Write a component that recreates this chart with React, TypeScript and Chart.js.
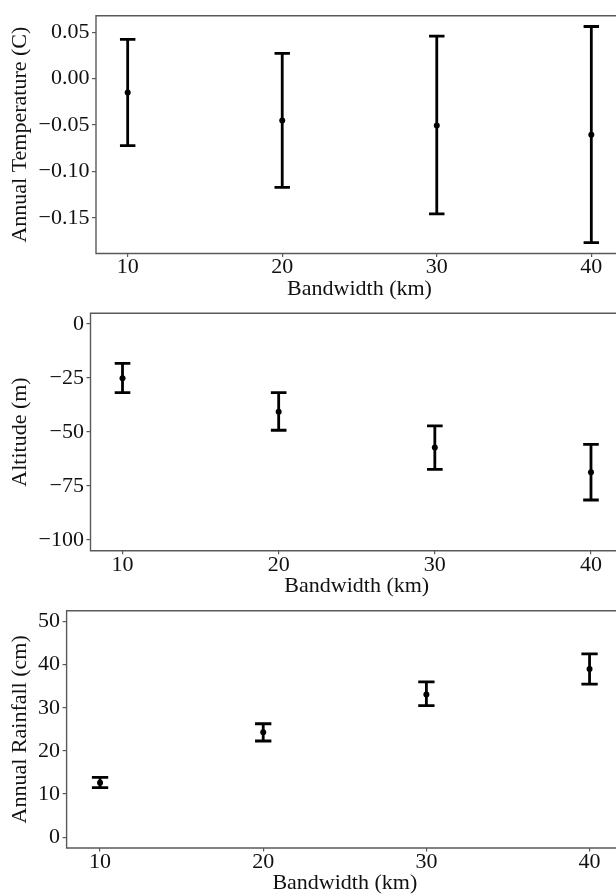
import React, { useEffect, useRef } from "react";
import { Chart, registerables } from "chart.js";
Chart.register(...registerables);

// ---------- data ----------
const bandwidth = [10, 20, 30, 40];
const xTickValues = [10, 20, 30, 40];
const xTickLabels = ["10", "20", "30", "40"];
const xTitle = "Bandwidth (km)";

const tempMean = [-0.015, -0.045, -0.0504, -0.0604];
const tempLow = [-0.0722, -0.1171, -0.1457, -0.1767];
const tempHigh = [0.0422, 0.0272, 0.0457, 0.0561];
const tempTickValues = [0.05, 0, -0.05, -0.1, -0.15];
const tempTickLabels = ["0.05", "0.00", "\u22120.05", "\u22120.10", "\u22120.15"];

const altMean = [-25.1, -40.6, -57.2, -68.6];
const altLow = [-31.8, -49.2, -67.3, -81.5];
const altHigh = [-18.2, -31.8, -47.2, -55.7];
const altTickValues = [0, -25, -50, -75, -100];
const altTickLabels = ["0", "\u221225", "\u221250", "\u221275", "\u2212100"];

const rainMean = [12.6, 24.3, 33.1, 39.0];
const rainLow = [11.5, 22.3, 30.5, 35.5];
const rainHigh = [13.85, 26.3, 36.0, 42.5];
const rainTickValues = [0, 10, 20, 30, 40, 50];
const rainTickLabels = ["0", "10", "20", "30", "40", "50"];

// error bar cap half-width, in x data units
const capHalf = 0.5;

// ---------- styling / layout ----------
const FONT = "'Liberation Serif', 'Times New Roman', serif";
const FONT_SIZE = 22;
const TEXT = "#111111";
const AXIS = "#5a5a5a";
const CANVAS_W = 630;
const CANVAS_H = 310;
const CHART_RIGHT = 623;

type PanelProps = {
  mean: number[];
  low: number[];
  high: number[];
  tickValues: number[];
  tickLabels: string[];
  yMin: number;
  yMax: number;
  yTitle: string;
  top: number;
  chartTop: number;
  chartBottom: number;
  left: number;
};

function Panel(p: PanelProps) {
  const ref = useRef<HTMLCanvasElement | null>(null);
  useEffect(() => {
    if (!ref.current) return;
    const xh = CANVAS_H - p.chartBottom;
    const errorBars = {
      id: "errorBars",
      beforeDatasetsDraw(chart: any) {
        const ctx = chart.ctx;
        const xs = chart.scales.x;
        const ys = chart.scales.y;
        ctx.save();
        ctx.strokeStyle = "#000";
        ctx.lineWidth = 2.8;
        ctx.lineCap = "butt";
        bandwidth.forEach((bx, i) => {
          const x = xs.getPixelForValue(bx);
          const x0 = xs.getPixelForValue(bx - capHalf);
          const x1 = xs.getPixelForValue(bx + capHalf);
          const yl = ys.getPixelForValue(p.low[i]);
          const yh = ys.getPixelForValue(p.high[i]);
          ctx.beginPath();
          ctx.moveTo(x, yl);
          ctx.lineTo(x, yh);
          ctx.moveTo(x0, yl);
          ctx.lineTo(x1, yl);
          ctx.moveTo(x0, yh);
          ctx.lineTo(x1, yh);
          ctx.stroke();
        });
        ctx.restore();
      },
      afterDraw(chart: any) {
        const ctx = chart.ctx;
        const a = chart.chartArea;
        ctx.save();
        ctx.strokeStyle = AXIS;
        ctx.lineWidth = 1.4;
        ctx.beginPath();
        ctx.moveTo(a.right, a.top);
        ctx.lineTo(a.left, a.top);
        ctx.lineTo(a.left, a.bottom);
        ctx.lineTo(a.right, a.bottom);
        ctx.stroke();
        ctx.restore();
      },
    };
    const chart = new Chart(ref.current, {
      type: "scatter",
      data: {
        datasets: [
          {
            data: bandwidth.map((x, i) => ({ x, y: p.mean[i] })),
            pointRadius: 3,
            pointBackgroundColor: "#000",
            pointBorderWidth: 0,
            showLine: false,
          },
        ],
      },
      options: {
        responsive: false,
        animation: false,
        devicePixelRatio: 1,
        layout: {
          padding: { top: p.chartTop, left: 0, right: CANVAS_W - CHART_RIGHT, bottom: 0 },
        },
        plugins: { legend: { display: false }, tooltip: { enabled: false } },
        scales: {
          x: {
            type: "linear",
            min: 7.95,
            max: 42.05,
            afterBuildTicks: (s: any) => {
              s.ticks = xTickValues.map((v) => ({ value: v }));
            },
            afterFit: (s: any) => {
              s.height = xh;
            },
            grid: { display: true, drawOnChartArea: false, drawTicks: true, tickLength: 3.5, color: AXIS, lineWidth: 1.2 },
            border: { display: false },
            ticks: {
              autoSkip: false,
              maxRotation: 0,
              padding: -0.4,
              color: TEXT,
              font: { family: FONT, size: FONT_SIZE, lineHeight: 1 },
              callback: (_v: any, i: number) => xTickLabels[i],
            },
            title: {
              display: true,
              text: xTitle,
              color: TEXT,
              font: { family: FONT, size: FONT_SIZE, lineHeight: 1 },
              padding: { top: 0, bottom: xh - 35.3 - 11 },
            },
          },
          y: {
            type: "linear",
            min: p.yMin,
            max: p.yMax,
            afterBuildTicks: (s: any) => {
              s.ticks = p.tickValues.map((v) => ({ value: v }));
            },
            afterFit: (s: any) => {
              s.width = p.left;
            },
            grid: { display: true, drawOnChartArea: false, drawTicks: true, tickLength: 4, color: AXIS, lineWidth: 1.2 },
            border: { display: false },
            ticks: {
              autoSkip: false,
              padding: 2.5,
              color: TEXT,
              font: { family: FONT, size: FONT_SIZE, lineHeight: 1 },
              callback: (_v: any, i: number) => p.tickLabels[i],
            },
            title: {
              display: true,
              text: p.yTitle,
              color: TEXT,
              font: { family: FONT, size: FONT_SIZE, lineHeight: 1 },
              padding: { top: 9, bottom: 0 },
            },
          },
        },
      } as any,
      plugins: [errorBars],
    });
    return () => chart.destroy();
  }, []);
  return (
    <canvas
      ref={ref}
      width={CANVAS_W}
      height={CANVAS_H}
      style={{ position: "absolute", left: 0, top: p.top, width: CANVAS_W, height: CANVAS_H }}
    />
  );
}

export default function App() {
  return (
    <div
      style={{
        position: "fixed",
        left: 0,
        top: 0,
        width: 616,
        height: 895,
        overflow: "hidden",
        background: "#fff",
      }}
    >
      <Panel
        mean={tempMean}
        low={tempLow}
        high={tempHigh}
        tickValues={tempTickValues}
        tickLabels={tempTickLabels}
        yMin={-0.1883}
        yMax={0.0677}
        yTitle="Annual Temperature (C)"
        top={0}
        chartTop={15.7}
        chartBottom={253.5}
        left={96}
      />
      <Panel
        mean={altMean}
        low={altLow}
        high={altHigh}
        tickValues={altTickValues}
        tickLabels={altTickLabels}
        yMin={-105}
        yMax={5}
        yTitle="Altitude (m)"
        top={298}
        chartTop={15.3}
        chartBottom={252.7}
        left={90.5}
      />
      <Panel
        mean={rainMean}
        low={rainLow}
        high={rainHigh}
        tickValues={rainTickValues}
        tickLabels={rainTickLabels}
        yMin={-2.5}
        yMax={52.5}
        yTitle="Annual Rainfall (cm)"
        top={595}
        chartTop={15.7}
        chartBottom={253}
        left={66.6}
      />
    </div>
  );
}
